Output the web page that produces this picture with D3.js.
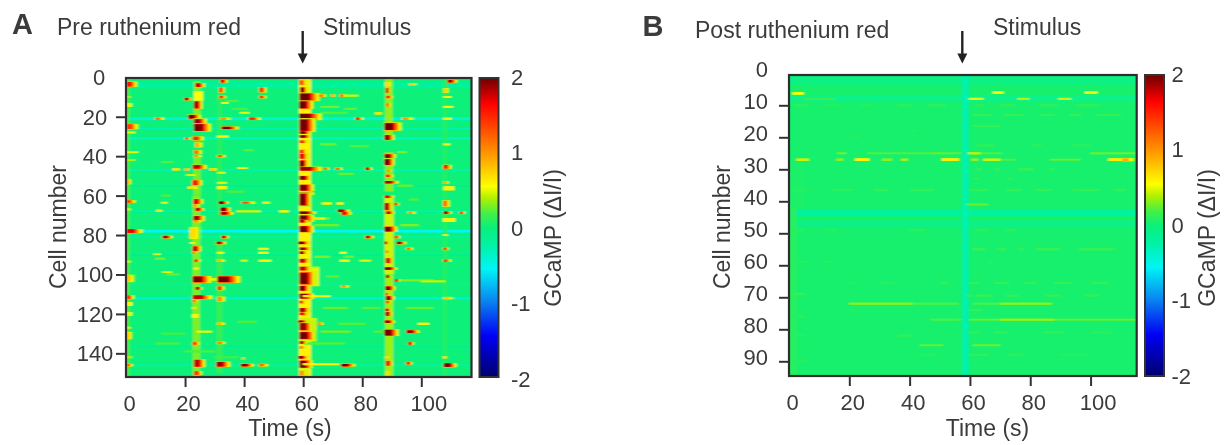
<!DOCTYPE html>
<html>
<head>
<meta charset="utf-8">
<script src="https://cdnjs.cloudflare.com/ajax/libs/d3/7.8.5/d3.min.js"></script>
<style>
    body { margin: 0; background: #fff; }
    text { font-family: "Liberation Sans", Arial, sans-serif; fill: #3b3b3b; }
</style>
</head>
<body>
<div id="chart"></div>
<script>
// colour bar stops
const colorValues = [-2, -1.45, -1, -0.55, -0.25, 0, 0.18, 0.4, 0.55, 1, 1.65, 2];
const colorNames = ["#00006e", "#0000f5", "#0a80f0", "#00f5f5", "#00f2a8", "#0af07a", "#40f048", "#b4f000", "#ffff00", "#ff9400", "#ff0000", "#6e0000"];
const colorTicks = [2, 1, 0, -1, -2];

const timeTicks = [0, 20, 40, 60, 80, 100];
const cellTicksA = [0, 20, 40, 60, 80, 100, 120, 140];
const cellTicksB = [0, 10, 20, 30, 40, 50, 60, 70, 80, 90];

// dark or cool rows: [cell, value, rows]
const rowsA = [[4, -0.2, 3], [21, -0.4, 1.5], [26, -0.28, 1], [31, -0.32, 1.5], [47, -0.26, 1], [55, -0.1, 1], [68, -0.26, 1], [78, -0.55, 1.5], [81, -0.22, 1], [90, -0.1, 1], [105, -0.08, 1], [112, -0.34, 1.5], [137, -0.12, 1], [146, -0.22, 1]];
const rowsB = [[2, -0.05, 3], [8, -0.08, 2], [43.7, -0.2, 2], [47, -0.06, 2]];

// broad columns: [cell from, cell to, time, duration, value]
const columnsA = [
    [0, 152, 58.6, 4, 0.6], [0, 30, 87.8, 2.4, 0.34], [38, 58, 87.8, 2.6, 0.32], [60, 100, 87.6, 3, 0.45], [100, 152, 87.8, 2.6, 0.36],
    [2, 20, 23, 2.2, 0.3], [40, 60, 23, 2.2, 0.28], [60, 152, 22.6, 2.4, 0.3], [6, 70, 31, 1.6, 0.1], [84, 150, 30.6, 2, 0.14], [96, 106, 58.8, 6.5, 0.5], [122, 134, 59, 5.5, 0.45],
    [0, 152, 0, 1.2, 0.2], [0, 152, 107.4, 1.4, 0.08]
];
const columnsB = [
    [0, 95, 57.4, 2.2, -0.27], [30, 95, 0, 2.5, 0.1], [28, 42, 0, 5, 0.07]
];

// transients: [cell, time, duration, peak, rows]
const eventsA = [
    // start of the recording
    [3.5, 0, 4, 1.6, 2], [10, 0, 1.5, 0.4, 1], [14, 0, 2, 0.5, 2], [25, 0, 4.5, 1.4, 2], [28, 0, 3, 0.5, 1], [38, 0, 4, 0.5, 1], [42, 0, 3, 0.4, 1], [53, 0, 2, 1, 2], [63, 0, 3.5, 1.4, 1], [67, 0, 1.5, 0.5, 1],
    [78, 0, 6, 1.7, 1.5], [93.5, 0, 1.5, 0.5, 1], [102, 0, 3.5, 0.8, 3], [111.5, 0, 3, 1.4, 1.5], [115, 0, 2, 0.6, 2], [120, 0, 2, 0.5, 2], [127, 0, 1.5, 0.5, 1], [131, 0, 2.5, 0.8, 3], [142, 0, 2, 0.4, 1], [146, 0, 2.5, 1.3, 1],
    // near 23 s
    [4, 23.4, 3.5, 1.8, 1.5], [9.5, 23, 3, 0.55, 5], [11, 19.8, 2.5, 1.9, 1], [14, 23, 3, 1.9, 3], [20, 21, 4.5, 2, 1.5], [23, 23, 4.5, 1.9, 3], [25.5, 23, 6, 2, 3], [31, 20, 2, 1.4, 1], [31, 22.6, 4, 1.5, 1.5], [34.3, 23.4, 3, 0.9, 2], [38, 23, 3, 1.2, 1.5], [40, 23, 3, 1, 1],
    [45.4, 22.6, 5, 1.8, 1.5], [46.7, 16, 3, 0.7, 1], [46.7, 20, 1.5, 1, 1], [46.7, 28.5, 3, 0.8, 1], [49.6, 20.5, 3, 0.5, 1], [53.5, 22.5, 3.5, 1.6, 2], [56, 21, 5, 0.7, 1], [63, 22.8, 3.5, 1.7, 2], [65, 22.8, 2.5, 1, 1], [67, 23.5, 3, 1.9, 1], [71.6, 22.8, 4, 1.9, 2],
    [73, 23, 3, 1, 1], [79, 21.6, 4.5, 0.7, 5], [84, 21.8, 1.5, 0.6, 1], [87, 22.6, 3, 1.8, 2], [89, 22.6, 1.5, 1.3, 1], [93, 23, 2.5, 1.5, 1], [97, 23, 1.5, 0.6, 1], [102.5, 22.6, 6.5, 2, 2.5], [102.5, 28, 5, 0.6, 1], [107, 23.5, 2.5, 1.9, 1], [111.5, 22.6, 7, 1.8, 1.5], [113.5, 22.6, 2, 1.2, 1],
    [117, 22.5, 2, 0.7, 1], [121, 22.5, 2, 0.6, 2], [129, 24, 5, 0.55, 1], [135, 22.6, 2.5, 1.5, 1], [145, 23, 4, 1.8, 3], [150, 23, 3, 1.5, 1.5],
    // near 31 s
    [2, 32, 2.5, 1.8, 1], [6.4, 31.5, 2, 1.6, 2], [10, 31.5, 2.5, 1.6, 1], [13, 32.5, 2, 0.6, 1], [21, 32, 4, 1, 1], [25.7, 32.4, 6, 2, 1], [30, 31, 3.5, 0.6, 1], [40, 31, 3, 1.3, 1], [48.4, 31, 2.5, 0.5, 1], [53.5, 31, 3, 0.5, 1], [56, 31, 3, 0.6, 1.5],
    [63.6, 31.3, 3.5, 2, 1], [67, 32, 3.5, 2, 1.5], [69, 32, 4.5, 1.9, 1], [81, 32.4, 2.5, 1.8, 1], [84, 30.5, 3.5, 1.9, 1], [89, 31, 2, 0.6, 1], [93, 31, 3, 0.9, 1], [102.5, 31, 8, 2, 2.5], [107, 31, 2.5, 1.5, 1.5], [112.5, 31, 3, 1, 2], [125, 31, 3, 0.9, 1], [134.7, 31, 3, 1.1, 1], [145.5, 30.5, 5, 1.9, 2],
    // between the first bursts and the stimulus
    [6.4, 45.2, 2.5, 1.5, 2], [10, 45.2, 2.5, 1.5, 1], [18, 38.7, 3, 0.5, 1], [21, 41.5, 4.5, 1.5, 1], [21, 9.8, 3.5, 1.2, 1], [46, 38, 3, 0.6, 1], [63.6, 39.2, 5, 1.3, 1], [63.6, 46.5, 3, 0.7, 1], [63.6, 12, 2, 0.5, 1], [67.7, 10.4, 2.5, 0.7, 1], [68, 37.5, 8, 0.5, 1], [68, 52, 3, 0.6, 1],
    [81, 12.4, 3.5, 1.9, 1], [89.7, 9.5, 2, 0.5, 1], [98.8, 12.4, 3, 0.5, 1], [87, 45, 3, 0.6, 1], [89, 45, 3, 0.6, 1], [93, 45, 4, 0.6, 1], [93, 39, 2, 0.5, 1], [142.5, 39.3, 1, 1, 1], [146, 38.9, 4.5, 2, 1], [146, 45, 3.5, 1.2, 1],
    // stimulus
    [2.7, 58.6, 3, 1.3, 2], [6.4, 59, 2.5, 2, 2], [10, 58.8, 7, 2, 3], [9.3, 65.5, 2.5, 1.2, 1], [9.3, 69.5, 1.5, 1, 1], [9.3, 72.5, 2, 1.3, 1], [9.3, 74.5, 4, 0.5, 1], [14, 58.6, 5, 2, 3], [20, 58.6, 8, 2, 2.5], [24.3, 58.8, 5.5, 2, 5], [28, 58.8, 4, 2, 1], [30, 58.8, 4, 2, 1], [32.7, 58.8, 3, 1.5, 1], [38, 58.8, 2.5, 1.5, 2], [40, 58.8, 3, 1.7, 2], [44, 58.8, 3, 2, 3],
    [46.4, 58.8, 8, 1.9, 1.5], [46.4, 67, 2, 1.3, 1], [46.4, 71, 2.5, 1.3, 1], [46.4, 81, 2.5, 1.8, 1], [51, 58.8, 4, 2, 1.5], [56, 58.8, 5, 2, 2.5], [59, 58.8, 5, 2, 1], [62, 58.8, 4, 2, 5], [68.7, 58.6, 6, 2, 1], [71.6, 58.8, 5, 2, 2.5], [71.6, 63, 7, 0.7, 1],
    [73, 58.8, 3, 1.9, 1], [77, 58.8, 5, 2, 2.5], [84, 58.3, 4, 2, 1], [87, 58.8, 4, 1.9, 1], [89, 58.8, 2.5, 2, 1], [93, 58.8, 3.5, 1.8, 1.5], [97, 58.8, 4, 1.8, 1.5], [102, 58.8, 5.5, 2, 5], [107, 58.8, 3.5, 2, 2], [111, 58.8, 5, 2, 2], [111, 60, 9, 0.6, 1], [114, 58.8, 2, 1.6, 1],
    [118, 58.8, 3.5, 1.9, 1.5], [120, 58.8, 3, 1.7, 1], [124, 58.3, 3.5, 2, 1], [126.5, 58.8, 4.5, 1.9, 3], [131, 58.8, 5.5, 2, 3], [134.5, 58.8, 2.5, 1.9, 1], [137, 58.8, 2, 1.2, 1], [142, 58.3, 3.5, 2, 1], [145.5, 58.8, 4.5, 2, 3], [145.5, 60, 12, 0.6, 1], [150, 58.8, 3, 1, 2],
    // after the stimulus
    [18.3, 84.5, 3, 0.7, 1], [21, 77.6, 3, 1.5, 1], [21, 93.5, 4.5, 1, 1], [64, 66.5, 3, 0.6, 1], [64, 71.5, 2, 0.6, 1], [67.7, 71.5, 4.5, 1.9, 1], [69, 73, 3.5, 1.7, 1], [81, 81, 3, 1.8, 1], [89, 72.5, 2, 0.6, 1], [93, 72.5, 3, 0.6, 1], [93, 79.3, 3.5, 0.5, 1], [106, 73, 3, 1, 1], [125, 65, 2, 1.1, 1], [146, 72.8, 5, 2, 1],
    // near 88 s
    [3.5, 87.8, 3, 0.7, 2], [3.5, 96, 3, 0.8, 1], [6.7, 88, 1.5, 1.8, 2], [10, 88, 2.5, 1.6, 1], [14, 88, 2, 1.2, 1.5], [25, 87.5, 6, 2, 3], [30.5, 87.5, 3.5, 1.9, 2], [40, 87.5, 4, 2, 1.5], [43, 87.5, 3.5, 2, 2.5], [47.4, 88.5, 1.5, 1.2, 1], [50, 87.8, 3, 1.5, 1], [53.2, 87.5, 5, 1.9, 1], [60.6, 87.5, 3.5, 1.7, 1], [64.3, 91, 1.5, 1.7, 1], [65.6, 87.6, 2.5, 1.9, 3], [68.7, 88, 3, 1.8, 1], [68.7, 95.5, 3, 1, 1],
    [77, 87.5, 4.5, 2, 2], [81, 91, 2, 1.5, 1], [84, 87.5, 1.5, 1.9, 1], [84, 91.5, 3.5, 1.9, 1], [88.5, 88, 1.5, 1.2, 1], [87, 95, 2.5, 1.2, 1], [93, 88, 2.5, 1.8, 2], [97, 87.5, 4.5, 2, 1], [101, 88, 2, 1.9, 1], [103, 91, 2, 1.7, 1], [107, 87.8, 3.5, 2, 1.5], [110, 87.8, 1.5, 1.6, 1], [112, 88, 3, 2, 1.5], [114, 88, 2, 1.5, 1], [118, 87.8, 2, 1.9, 1], [120, 87.8, 2.5, 1.9, 1.5], [124, 87.6, 3.5, 2, 1], [129.5, 87.5, 5, 2, 2.5], [129, 95, 4.5, 2, 1], [135, 95.5, 2, 1.9, 1], [142, 87.8, 2, 0.8, 1], [145, 88, 2.5, 1.7, 2], [145, 95, 2, 1.7, 1], [150, 88, 2, 0.7, 2],
    // near 108 s
    [2, 108.8, 3.5, 1.9, 1], [6.7, 107.6, 2, 0.8, 2], [10, 107.6, 2.5, 0.6, 1], [15, 107.6, 3, 0.6, 1], [21, 107.6, 2.5, 0.6, 1], [34, 107.6, 2, 0.6, 1], [45.4, 107.4, 3, 1.6, 1.5], [53.3, 107.6, 2, 1, 1], [56.3, 107.6, 3.5, 0.6, 2], [64, 107.4, 2.5, 1.2, 2.5], [68.7, 107.4, 3, 1.9, 1], [68.7, 113, 2, 1.5, 1], [72.4, 107.4, 4, 0.6, 2],
    [80, 107.4, 1.5, 0.5, 1], [87, 107.4, 2, 1.6, 1], [93, 107.4, 3, 1.4, 1], [103.5, 100, 8, 0.45, 1], [112, 107.6, 4, 0.8, 1], [125, 99, 3.5, 0.6, 1], [142, 107.5, 1.5, 0.7, 1], [146, 107.6, 4.5, 2, 1.5]
];

// weak speckle in A: [cell, time, duration, value]
const faintA = [
    [15, 66, 6, 0.28], [16, 74, 4, 0.24], [18, 66, 9, 0.22], [34, 66, 5, 0.28], [35, 76, 6, 0.22], [38, 92, 3, 0.3], [49, 72, 5, 0.25], [55, 92, 5, 0.25], [62, 96, 3, 0.22], [75, 64, 8, 0.28], [75, 93, 6, 0.3],
    [91, 64, 5, 0.3], [91, 74, 3, 0.28], [101, 68, 4, 0.25], [103, 92, 12, 0.3], [117, 67, 8, 0.25], [117, 80, 6, 0.22], [117, 95, 9, 0.25], [125, 72, 9, 0.22], [129, 66, 10, 0.28], [129, 84, 5, 0.22], [135, 60, 14, 0.22],
    [37, 40, 3, 0.22], [43, 12, 4, 0.22], [58, 34, 6, 0.2], [92, 10, 3, 0.3], [100, 14, 4, 0.25], [135, 10, 8, 0.2], [139, 20, 10, 0.2], [142, 30, 8, 0.18], [124, 38, 6, 0.2], [130, 12, 8, 0.18], [12, 34, 4, 0.22], [16, 36, 5, 0.2], [60, 12, 3, 0.2]
];

// B only has weak streaks: [cell, time, duration, value, rows]
const eventsB = [
    [6.3, 1.2, 3.6, 0.55, 0.8], [8, 5, 10, 0.18, 0.6], [27, 2.5, 4, 0.45, 0.8], [27, 15.8, 2, 0.35, 0.7], [27, 22, 4.5, 0.6, 0.8], [27, 31, 3, 0.35, 0.7], [27, 37.3, 2, 0.4, 0.7], [27, 50.7, 5.5, 0.62, 0.8], [25, 16, 3, 0.3, 0.6], [25, 26, 26, 0.22, 0.6],
    [6, 67.6, 3.5, 0.55, 0.8], [6, 98.2, 4, 0.55, 0.8], [8, 59.8, 4.5, 0.5, 0.7], [8, 76, 3.5, 0.42, 0.7], [8, 89.4, 4, 0.45, 0.7], [25, 47, 10, 0.24, 0.6], [25, 59.5, 4, 0.42, 0.7], [25, 63.5, 7, 0.22, 0.6], [25, 100, 15, 0.28, 0.6],
    [27, 60.6, 2, 0.38, 0.7], [27, 64.5, 5.5, 0.48, 0.7], [27, 70, 5, 0.22, 0.6], [27, 86.6, 10, 0.26, 0.6], [27, 106, 4.5, 0.62, 0.8], [27, 110.5, 4.8, 0.9, 0.8],
    [41, 59, 7, 0.26, 0.6], [72, 20, 21, 0.33, 0.6], [72, 41, 15, 0.22, 0.6], [72, 61, 9, 0.22, 0.6], [72, 70, 17, 0.34, 0.6], [77, 60, 10, 0.26, 0.6], [77, 70, 18, 0.36, 0.6], [77, 88, 27, 0.26, 0.6], [77, 47, 10, 0.22, 0.6], [85, 43.5, 7.5, 0.26, 0.6], [85, 61, 9, 0.28, 0.6]
];
const faintB = [
    [10, 2, 4, 0.12], [10, 12, 5, 0.1], [10, 24, 4, 0.1], [10, 36, 5, 0.11], [10, 46, 6, 0.12], [10, 62, 3, 0.12], [10, 70, 5, 0.12], [10, 83, 6, 0.12], [10, 95, 8, 0.12],
    [13, 61, 6, 0.14], [13, 71, 7, 0.14], [13, 83, 5, 0.13], [13, 93, 4, 0.14], [13, 102, 8, 0.14], [16.5, 61, 9, 0.14], [18, 40, 2, 0.1], [20, 20, 3, 0.09], [22.5, 62, 6, 0.13], [22.5, 80, 4, 0.1], [22.5, 94, 6, 0.1],
    [30, 62, 2, 0.14], [30, 68, 2, 0.14], [30, 76, 5, 0.16], [30, 86, 2, 0.12], [33, 61, 2, 0.11], [33, 72, 2, 0.11], [36.5, 1, 6, 0.1], [36.5, 14, 7, 0.11], [36.5, 28, 5, 0.13], [36.5, 40, 8, 0.14], [36.5, 60, 6, 0.14], [36.5, 72, 5, 0.14], [36.5, 82, 5, 0.14], [36.5, 94, 9, 0.14], [36.5, 108, 4, 0.13],
    [49, 2, 3, 0.1], [49, 12, 4, 0.1], [49, 40, 5, 0.12], [49, 62, 4, 0.12], [49, 72, 3, 0.12], [55, 61, 4, 0.16], [55, 69, 3, 0.16], [55, 76, 2, 0.14], [55, 82, 8, 0.16], [55, 96, 12, 0.16], [59, 3, 3, 0.1], [59, 12, 3, 0.09], [59, 66, 2, 0.1],
    [65.5, 50, 3, 0.13], [65.5, 60, 3, 0.14], [65.5, 68, 5, 0.14], [65.5, 78, 4, 0.14], [65.5, 88, 6, 0.14], [65.5, 100, 6, 0.13], [65.5, 20, 2, 0.1], [65.5, 30, 5, 0.1], [69.5, 59, 2, 0.14], [69.5, 62, 5, 0.16], [69.5, 72, 4, 0.14], [69.5, 85, 5, 0.13], [69.5, 98, 5, 0.12], [69, 2, 3, 0.16],
    [74, 60, 4, 0.14], [74, 20, 2, 0.09], [81, 60, 3, 0.13], [81, 68, 5, 0.13], [81, 84, 7, 0.12], [81, 100, 7, 0.11], [88, 60, 6, 0.12], [88, 72, 6, 0.11], [88, 90, 9, 0.1], [82, 36, 5, 0.13], [88, 44, 5, 0.1], [76, 3, 2, 0.12], [82, 2, 3, 0.11], [90, 3, 3, 0.1]
];

(() => {
    const width = 1226, height = 445;
    const levels = [0.3, 0.55, 0.9, 1.3, 1.65, 2];
    const color = d3.scaleLinear().domain(colorValues).range(colorNames).clamp(true);

    const svg = d3.select("#chart").append("svg")
        .attr("width", width)
        .attr("height", height);

    const defs = svg.append("defs");
    defs.append("filter").attr("id", "soft").attr("x", "-5%").attr("y", "-5%").attr("width", "110%").attr("height", "110%")
        .append("feGaussianBlur").attr("stdDeviation", "1.1 0.65");
    defs.append("filter").attr("id", "softText").attr("x", "-5%").attr("y", "-5%").attr("width", "110%").attr("height", "110%")
        .append("feGaussianBlur").attr("stdDeviation", 0.4);

    const gradient = defs.append("linearGradient").attr("id", "barGradient")
        .attr("x1", 0).attr("y1", 1).attr("x2", 0).attr("y2", 0);
    gradient.selectAll("stop").data(colorValues).enter().append("stop")
        .attr("offset", d => (d + 2) / 4)
        .attr("stop-color", (d, i) => colorNames[i]);

    function drawPanel(p) {
        const x = d3.scaleLinear().domain([0, p.maxTime]).range([p.left, p.right]);
        const y = d3.scaleLinear().domain([0, p.maxCell]).range([p.zeroY, p.bottom]);
        const cell = y(1) - y(0);

        defs.append("clipPath").attr("id", "clip" + p.name).append("rect")
            .attr("x", p.left).attr("y", p.top)
            .attr("width", p.right - p.left).attr("height", p.bottom - p.top);

        const heat = svg.append("g").attr("clip-path", `url(#clip${p.name})`)
            .append("g").attr("filter", "url(#soft)");

        heat.append("rect")
            .attr("x", p.left - 6).attr("y", p.top - 6)
            .attr("width", p.right - p.left + 12).attr("height", p.bottom - p.top + 12)
            .attr("fill", color(p.base));

        heat.selectAll(".row").data(p.rows).enter().append("rect")
            .attr("class", "row")
            .attr("x", p.left - 6)
            .attr("width", p.right - p.left + 12)
            .attr("y", d => y(d[0]) - d[2] * cell / 2)
            .attr("height", d => d[2] * cell)
            .attr("fill", d => color(d[1]));

        heat.selectAll(".column").data(p.columns).enter().append("rect")
            .attr("class", "column")
            .attr("x", d => x(d[2]))
            .attr("width", d => x(d[2] + d[3]) - x(d[2]))
            .attr("y", d => y(d[0]))
            .attr("height", d => y(d[1]) - y(d[0]))
            .attr("fill", d => color(d[4]));

        heat.selectAll(".faint").data(p.faint).enter().append("rect")
            .attr("class", "faint")
            .attr("x", d => x(d[1]))
            .attr("width", d => x(d[1] + d[2]) - x(d[1]))
            .attr("y", d => y(d[0]) - p.faintRows * cell / 2)
            .attr("height", p.faintRows * cell)
            .attr("fill", d => color(d[3]));

        // each transient is stacked from its weak rim to its peak, so it tapers like the original
        p.events.forEach(e => {
            const peak = e[3];
            const steps = levels.filter(v => v < peak).concat([peak]);
            steps.forEach(v => {
                const f = 1 - 0.6 * (v / peak);
                const w = peak < 0.7 ? e[2] : e[2] * (0.08 + f);
                const h = e[4] * cell * (peak < 0.7 ? 1 : 0.8 + 0.7 * f);
                heat.append("rect")
                    .attr("x", x(e[1]))
                    .attr("width", x(e[1] + w) - x(e[1]))
                    .attr("y", y(e[0]) - h / 2)
                    .attr("height", h)
                    .attr("fill", color(v));
            });
        });

        svg.append("rect")
            .attr("x", p.left).attr("y", p.top)
            .attr("width", p.right - p.left).attr("height", p.bottom - p.top)
            .attr("fill", "none").attr("stroke", "#2e2e2e").attr("stroke-width", 2.2);

        const ink = svg.append("g").attr("filter", "url(#softText)");

        const xAxis = ink.append("g")
            .attr("transform", `translate(0,${p.bottom})`)
            .call(d3.axisBottom(x).tickValues(timeTicks).tickSize(10).tickPadding(8));
        xAxis.select(".domain").remove();
        xAxis.selectAll("line").attr("stroke", "#333").attr("stroke-width", 2)
            .attr("display", d => d === 0 ? "none" : null);
        xAxis.selectAll("text")
            .attr("dx", d => d === 100 ? 7 : 3)
            .style("font-size", p.fontSize + "px");

        const yAxis = ink.append("g")
            .attr("transform", `translate(${p.left},0)`)
            .call(d3.axisLeft(y).tickValues(p.cellTicks).tickSize(10).tickPadding(0));
        yAxis.select(".domain").remove();
        yAxis.selectAll("line").attr("stroke", "#333").attr("stroke-width", 2)
            .attr("display", d => d === 0 ? "none" : null);
        yAxis.selectAll("text")
            .attr("x", d => p.labelX - p.left + (d === 0 ? p.zeroShift : 0))
            .attr("dy", `${p.labelDy}em`)
            .style("text-anchor", p.labelAnchor)
            .style("font-size", p.fontSize + "px");

        // colour bar
        svg.append("rect")
            .attr("x", p.barLeft).attr("y", p.top)
            .attr("width", p.barWidth).attr("height", p.bottom - p.top)
            .attr("fill", "url(#barGradient)")
            .attr("stroke", "#333").attr("stroke-width", 2);

        const barScale = d3.scaleLinear().domain([2, -2]).range(p.barRange);
        const barAxis = ink.append("g")
            .attr("transform", `translate(${p.barLabelX},0)`)
            .call(d3.axisRight(barScale).tickValues(colorTicks).tickSize(0).tickPadding(0).tickFormat(d => String(d)));
        barAxis.select(".domain").remove();
        barAxis.selectAll("text").style("font-size", p.fontSize + "px");

        // labels
        ink.append("text").attr("x", p.letterX).attr("y", p.letterY).text(p.name)
            .style("font-size", "29px").style("font-weight", "bold");
        ink.append("text").attr("x", p.titleX).attr("y", p.titleY).text(p.title)
            .style("font-size", "23px");
        ink.append("text").attr("x", p.stimX).attr("y", 35).text("Stimulus")
            .style("font-size", "23px");
        ink.append("text").attr("x", p.timeX).attr("y", 436).attr("text-anchor", "middle").text("Time (s)")
            .style("font-size", "23px");
        ink.append("text").attr("transform", `translate(${p.cellX},227) rotate(-90)`).attr("text-anchor", "middle").text("Cell number")
            .style("font-size", "23px");
        ink.append("text").attr("transform", `translate(${p.gcampX},238) rotate(-90)`).attr("text-anchor", "middle").text("GCaMP (ΔI/I)")
            .style("font-size", "23px");

        // stimulus arrow
        ink.append("line")
            .attr("x1", p.arrowX).attr("x2", p.arrowX).attr("y1", 31).attr("y2", 56)
            .attr("stroke", "#222").attr("stroke-width", 2.4);
        ink.append("path")
            .attr("d", d3.line()([[p.arrowX - 5, 53.5], [p.arrowX + 5, 53.5], [p.arrowX, 63.5]]))
            .attr("fill", "#222");
    }

    drawPanel({
        name: "A", title: "Pre ruthenium red",
        left: 126, right: 471.5, top: 78, bottom: 377, zeroY: 77.3,
        maxTime: 117, maxCell: 152, base: 0, faintRows: 1.2,
        rows: rowsA, columns: columnsA, events: eventsA, faint: faintA, cellTicks: cellTicksA,
        labelX: 95, labelAnchor: "middle", labelDy: 0.34, zeroShift: 4, fontSize: 22,
        barLeft: 479.5, barWidth: 19, barRange: [77, 379], barLabelX: 511,
        letterX: 12, letterY: 33.5, titleX: 57, titleY: 35, stimX: 323, timeX: 290, cellX: 66, gcampX: 561, arrowX: 302.7
    });

    drawPanel({
        name: "B", title: "Post ruthenium red",
        left: 789, right: 1136.7, top: 75, bottom: 376, zeroY: 73.3,
        maxTime: 115.3, maxCell: 94.6, base: 0.05, faintRows: 0.7,
        rows: rowsB, columns: columnsB, events: eventsB, faint: faintB, cellTicks: cellTicksB,
        labelX: 768, labelAnchor: "end", labelDy: 0.13, zeroShift: 0, fontSize: 22,
        barLeft: 1145, barWidth: 19, barRange: [74, 376], barLabelX: 1171.5,
        letterX: 642.5, letterY: 35.5, titleX: 695, titleY: 37.5, stimX: 993, timeX: 987.5, cellX: 729.5, gcampX: 1215, arrowX: 962.3
    });
})();
</script>
</body>
</html>
